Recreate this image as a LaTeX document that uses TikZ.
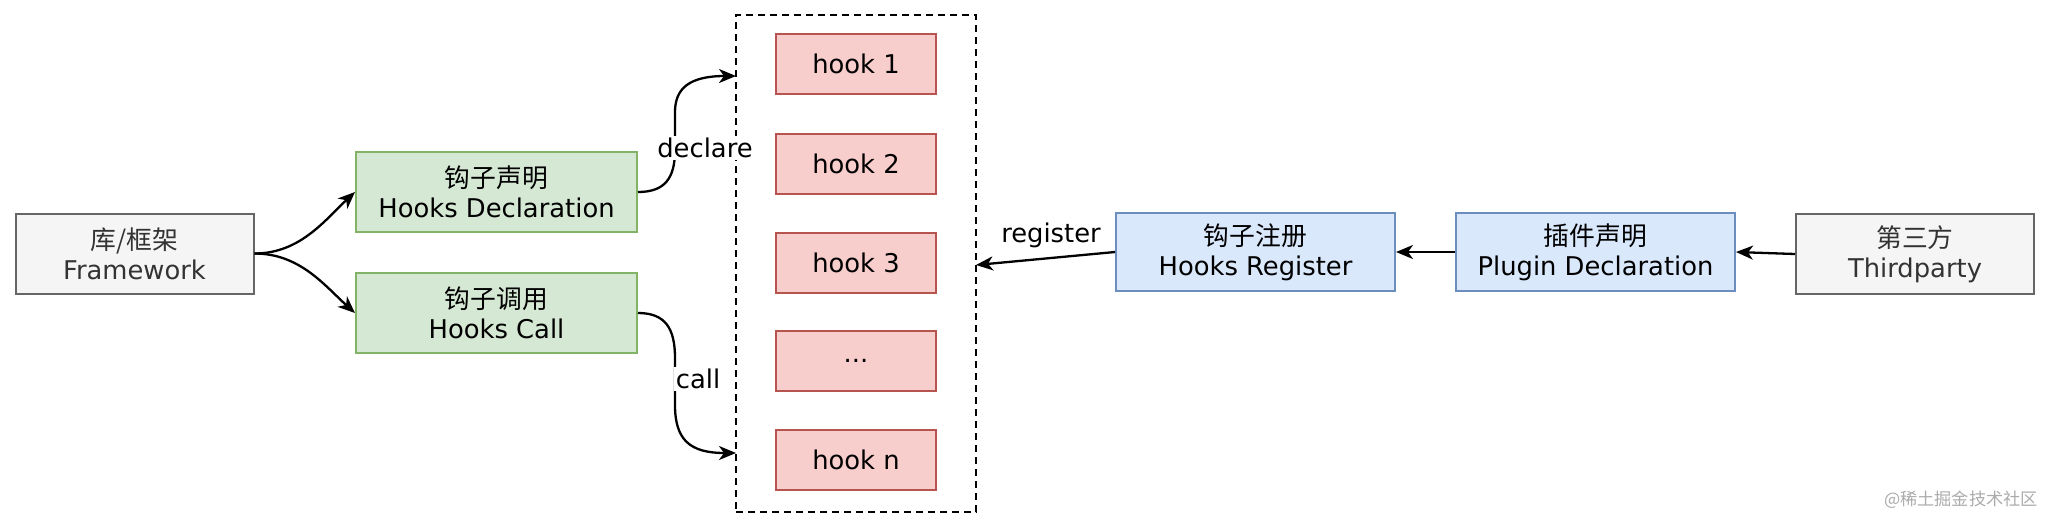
\documentclass[tikz,border=0pt]{standalone}
\usepackage{fontspec}
\setmainfont{DejaVu Sans}
\newfontfamily\cjk{Noto Sans CJK SC}
\usetikzlibrary{arrows.meta}
\definecolor{gfill}{HTML}{D5E8D4}
\definecolor{gdraw}{HTML}{82B366}
\definecolor{rfill}{HTML}{F8CECC}
\definecolor{rdraw}{HTML}{B85450}
\definecolor{bfill}{HTML}{DAE8FC}
\definecolor{bdraw}{HTML}{6C8EBF}
\definecolor{nfill}{HTML}{F5F5F5}
\definecolor{ndraw}{HTML}{666666}
\definecolor{ntext}{HTML}{333333}
\definecolor{wmark}{HTML}{ABABAB}
\tikzset{
  base/.style={draw, line width=1pt, inner sep=0pt, align=center,
    font=\fontsize{12.9}{15}\selectfont},
  greybox/.style={base, fill=nfill, draw=ndraw, text=ntext, minimum width=119pt, minimum height=40pt},
  greenbox/.style={base, fill=gfill, draw=gdraw, minimum width=140.5pt, minimum height=40pt},
  bluebox/.style={base, fill=bfill, draw=bdraw, minimum width=139.5pt, minimum height=39pt},
  hookbox/.style={base, fill=rfill, draw=rdraw, minimum width=80pt, minimum height=30pt},
  groupbox/.style={draw, line width=1.1pt, dash pattern=on 3.5pt off 2.5pt, inner sep=0pt,
    minimum width=120pt, minimum height=248.5pt},
  lbl/.style={inner sep=1pt, font=\fontsize{12.9}{15}\selectfont},
  arr/.style={line width=1.15pt, -{Stealth[length=8.5pt,width=7pt,inset=2.5pt]}},
}
\begin{document}
\begin{tikzpicture}[x=0.5pt,y=-0.5pt]
\useasboundingbox (0,0) rectangle (2058,526);
% group
\node[groupbox] (grp) at (856,263.5) {};
% hooks
\node[hookbox] (h1) at (856,64) {hook 1};
\node[hookbox] (h2) at (856,163.5) {hook 2};
\node[hookbox] (h3) at (856,263) {hook 3};
\node[hookbox] (h4) at (856,361) {...};
\node[hookbox] (hn) at (856,460) {hook n};
% left nodes
\node[greybox] (fw) at (134.5,253.5) {{\cjk 库/框架}\\Framework};
\node[greenbox] (hd) at (496.5,192) {{\cjk 钩子声明}\\Hooks Declaration};
\node[greenbox] (hc) at (496.5,313) {{\cjk 钩子调用}\\Hooks Call};
% right nodes
\node[bluebox] (hr) at (1255.5,252) {{\cjk 钩子注册}\\Hooks Register};
\node[bluebox] (pd) at (1595.5,252) {{\cjk 插件声明}\\Plugin Declaration};
\node[greybox] (tp) at (1915,254) {{\cjk 第三方}\\Thirdparty};
% targets on group border
\coordinate (dtgt) at (736,76);
\coordinate (ctgt) at (736,453);
\coordinate (rtgt) at (976,265);
% connectors
\draw[arr] (fw.east) .. controls (300,253.5) and (325,220) .. (hd.west);
\draw[arr] (fw.east) .. controls (300,253.5) and (325,286) .. (hc.west);
\draw[arr] (hd.east) .. controls (665,192) and (675,178) .. (675,150)
  -- (675,112) .. controls (675,88) and (690,76) .. (dtgt);
\draw[arr] (hc.east) .. controls (665,313) and (675,328) .. (675,358)
  -- (675,405) .. controls (675,440) and (690,453) .. (ctgt);
\draw[arr] (hr.west) -- (rtgt);
\draw[arr] (pd.west) -- (hr.east);
\draw[arr] (tp.west) -- (pd.east);
% labels
\node[lbl, fill=white] (ldecl) at (705,148) {declare};
\node[lbl, fill=white] (lcall) at (698,379) {call};
\node[lbl] (lreg) at (1051,235) {register};
% watermark
\node[text=wmark, inner sep=0pt, font=\cjk\fontsize{8.6}{10}\selectfont] (wm) at (1961,500) {@稀土掘金技术社区};
\end{tikzpicture}
\end{document}
